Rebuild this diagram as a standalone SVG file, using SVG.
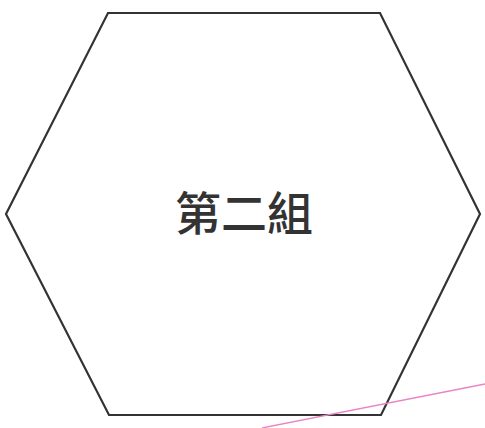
<svg xmlns="http://www.w3.org/2000/svg" width="485" height="428" viewBox="0 0 485 428">
<style>
.hex{fill:#ffffff;stroke:#333333;stroke-width:2.2;stroke-linejoin:miter}
.lbl{font-family:"Noto Sans CJK TC","Noto Sans CJK SC",sans-serif;font-size:46px;font-weight:500;fill:#333333;text-anchor:middle}
.conn{stroke:#e884c4;stroke-width:1.3;fill:none}
</style>
<rect width="485" height="428" fill="#ffffff"/>
<g id="node-group2">
<polygon class="hex" points="108,13 380,13 480,214 381,415 109,415 6,214"/>
<text class="lbl" x="244" y="230">第二組</text>
</g>
<g id="connectors">
<line class="conn" x1="262" y1="428" x2="485" y2="384"/>
</g>
</svg>
